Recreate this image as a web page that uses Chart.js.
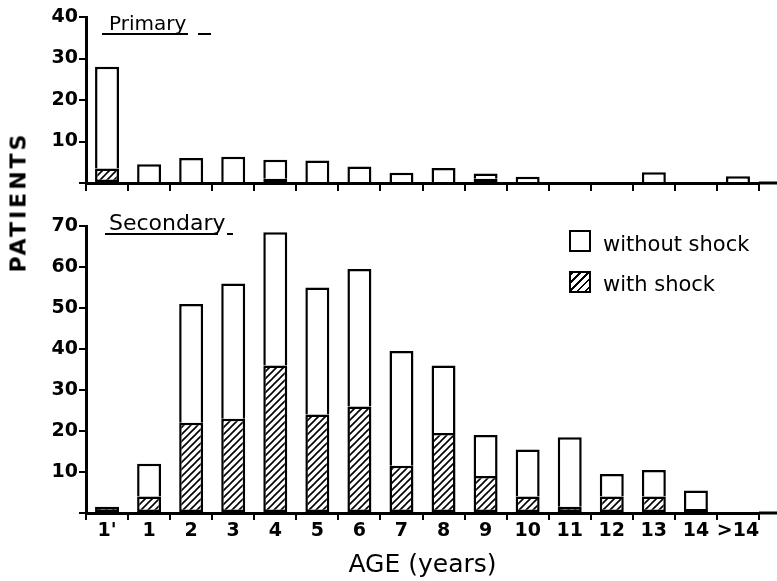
<!DOCTYPE html>
<html>
<head>
<meta charset="utf-8">
<script src="https://cdn.jsdelivr.net/npm/chart.js@4/dist/chart.umd.min.js"></script>
<style>
  body { margin: 0; background: #fff; }
  #wrap { position: relative; width: 777px; height: 581px; overflow: hidden; font-family: "DejaVu Sans", sans-serif; color: #000; }
  canvas { position: absolute; left: 0; top: 0; }
  .lbl { position: absolute; white-space: nowrap; }
  .rule { position: absolute; height: 2px; background: #000; }
  .box { position: absolute; width: 18px; height: 18px; border: 2px solid #000; background: #fff; }
  .hatch { background: repeating-linear-gradient(135deg, #000 0 1.8px, #fff 1.8px 5.5px); }
</style>
</head>
<body>
<div id="wrap">
  <canvas id="primary" width="777" height="581"></canvas>
  <canvas id="secondary" width="777" height="581"></canvas>

  <div class="lbl" id="ylabel" style="left:18px;top:202px;font-size:22px;font-weight:bold;letter-spacing:3px;transform:translate(-50%,-50%) rotate(-90deg);">PATIENTS</div>

  <div class="lbl" style="left:109px;top:13px;font-size:20px;line-height:20px;">Primary</div>
  <div class="rule" style="left:102px;top:33px;width:86px;"></div>
  <div class="rule" style="left:198px;top:33px;width:13px;"></div>

  <div class="lbl" style="left:109px;top:212px;font-size:22px;line-height:22px;">Secondary</div>
  <div class="rule" style="left:105px;top:233px;width:113px;"></div>
  <div class="rule" style="left:227px;top:233px;width:6px;"></div>

  <div class="box" style="left:569px;top:230px;"></div>
  <div class="lbl" id="leg1" style="left:603px;top:234px;font-size:21px;line-height:21px;"></div>
  <div class="box hatch" style="left:569px;top:271px;"></div>
  <div class="lbl" id="leg2" style="left:603px;top:274px;font-size:21px;line-height:21px;"></div>
</div>
<script>
//----------------------------------DATA-----------------------------------------------------------

const AGES = ["1'", '1', '2', '3', '4', '5', '6', '7', '8', '9', '10', '11', '12', '13', '14', '>14']
const SERIES = ['without shock', 'with shock']

const primaryWithShock    = [3.5, 0, 0, 0, 1, 0, 0, 0, 0, 1, 0, 0, 0, 0, 0, 0]
const primaryWithoutShock = [24.5, 4.5, 6, 6.3, 4.6, 5.4, 4, 2.5, 3.6, 1.3, 1.5, 0, 0, 2.6, 0, 1.6]

const secondaryWithShock    = [1.5, 4, 22, 23, 36, 24, 26, 11.5, 19.5, 9, 4, 1.5, 4, 4, 1, 0]
const secondaryWithoutShock = [0, 8, 29, 33, 32.5, 31, 33.5, 28, 16.5, 10, 11.5, 17, 5.5, 6.5, 4.5, 0]

const PRIMARY_TICKS = [10, 20, 30, 40]
const SECONDARY_TICKS = [10, 20, 30, 40, 50, 60, 70]

//----------------------------------HELPERS--------------------------------------------------------

const FONT = '"DejaVu Sans", sans-serif'

function makeHatch(){
    let c = document.createElement('canvas')
    c.width = 7
    c.height = 7
    let g = c.getContext('2d')
    g.fillStyle = '#fff'
    g.fillRect(0, 0, 7, 7)
    g.strokeStyle = '#000'
    g.lineWidth = 1.6
    g.beginPath()
    g.moveTo(0, 7); g.lineTo(7, 0)
    g.moveTo(-1, 1); g.lineTo(1, -1)
    g.moveTo(6, 8); g.lineTo(8, 6)
    g.stroke()
    return g.createPattern(c, 'repeat')
}

// baseline keeps running past the last category, as in the figure
const axisTail = {
    id: 'axisTail',
    afterDraw(chart){
        let {ctx, chartArea} = chart
        ctx.save()
        ctx.strokeStyle = '#000'
        ctx.lineWidth = 3
        ctx.beginPath()
        ctx.moveTo(chartArea.right, chartArea.bottom)
        ctx.lineTo(chart.width, chartArea.bottom)
        ctx.stroke()
        ctx.restore()
    }
}

// an empty age group gets no box at all
const noEmpty = (arr) => arr.map(v => v === 0 ? null : v)

function getConfig(withShock, withoutShock, max, tickValues, padding, showLabels){
    let hatch = makeHatch()
    return {
        type: 'bar',
        data: {
            labels: AGES,
            datasets: [
                {label: SERIES[1], data: noEmpty(withShock), backgroundColor: hatch, borderColor: '#000', borderWidth: 2.5, borderSkipped: false, barPercentage: 0.57, categoryPercentage: 1},
                // bottom edge skipped so the divider with the hatched part stays a single line
                {label: SERIES[0], data: noEmpty(withoutShock), backgroundColor: '#fff', borderColor: '#000', borderWidth: 2.5, borderSkipped: 'start', barPercentage: 0.57, categoryPercentage: 1}
            ]
        },
        options: {
            responsive: false,
            animation: false,
            layout: {padding: padding},
            plugins: {legend: {display: false}, tooltip: {enabled: false}},
            scales: {
                x: {
                    stacked: true,
                    grid: {offset: true, drawOnChartArea: false, color: '#000', lineWidth: 2, tickLength: showLabels ? 7 : 8},
                    border: {display: true, color: '#000', width: 3},
                    ticks: {display: showLabels, color: '#000', padding: 0, maxRotation: 0, autoSkip: false, font: {family: FONT, size: 19, weight: 'bold'}},
                    title: {display: showLabels, text: 'AGE (years)', color: '#000', padding: {top: 0, bottom: 1}, font: {family: FONT, size: 25}},
                    afterFit: (s) => { s.height = showLabels ? 68 : 8 }
                },
                y: {
                    stacked: true,
                    min: 0,
                    max: max,
                    afterBuildTicks: (s) => { s.ticks = [0].concat(tickValues).map(v => ({value: v})) },
                    grid: {drawOnChartArea: false, color: '#000', lineWidth: 2, tickLength: 7},
                    border: {display: true, color: '#000', width: 3},
                    ticks: {color: '#000', padding: 1, font: {family: FONT, size: 19, weight: 'bold'}, callback: (v) => v === 0 ? '' : v},
                    afterFit: (s) => { s.width = 86 }
                }
            }
        },
        plugins: [axisTail]
    }
}

//----------------------------------CHARTS---------------------------------------------------------

new Chart(document.getElementById('primary'),
    getConfig(primaryWithShock, primaryWithoutShock, 40, PRIMARY_TICKS, {top: 17, bottom: 390, left: 0, right: 18}, false))

new Chart(document.getElementById('secondary'),
    getConfig(secondaryWithShock, secondaryWithoutShock, 70, SECONDARY_TICKS, {top: 226, bottom: 0, left: 0, right: 18}, true))

document.getElementById('leg1').textContent = SERIES[0]
document.getElementById('leg2').textContent = SERIES[1]
</script>
</body>
</html>
